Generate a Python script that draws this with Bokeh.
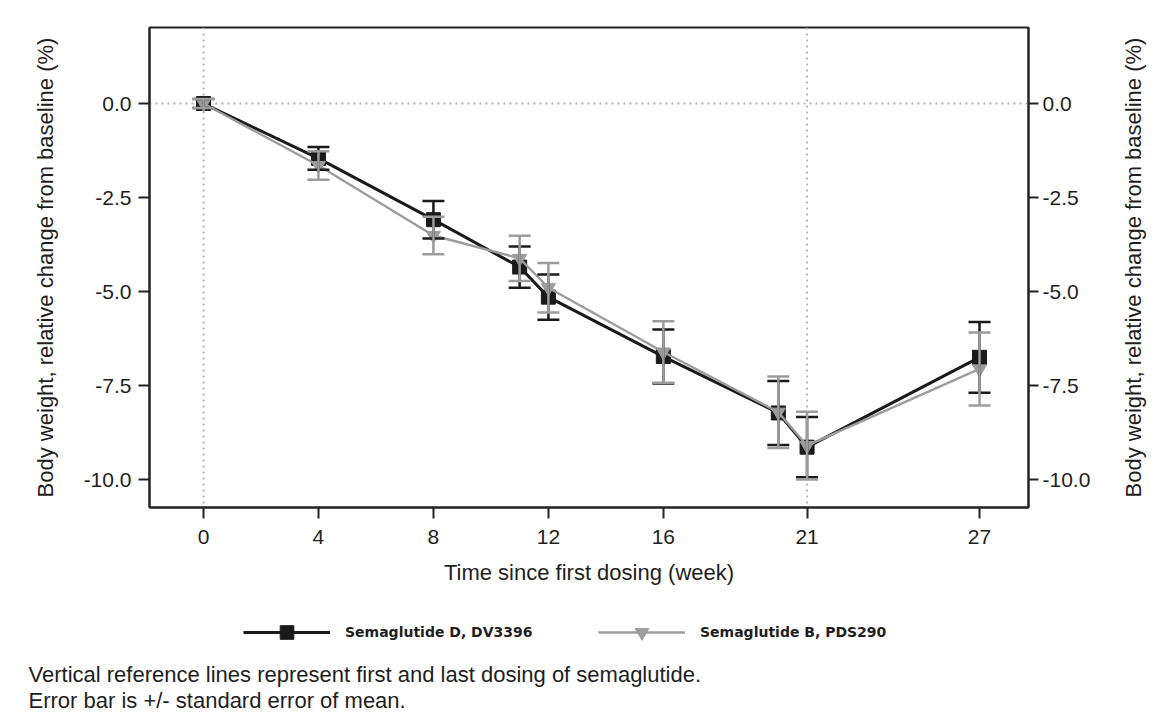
import math
from bokeh.plotting import figure
from bokeh.layouts import column, row
from bokeh.models import (ColumnDataSource, Whisker, TeeHead, Span, LinearAxis,
                          FixedTicker, Legend, LegendItem, Label, Range1d,
                          NumeralTickFormatter)
from bokeh.embed import file_html
from bokeh.resources import INLINE

# ---------------- data ----------------
weeks = [0, 4, 8, 11, 12, 16, 20, 21, 27]
dv3396_mean = [0.0, -1.46, -3.09, -4.35, -5.15, -6.73, -8.23, -9.14, -6.75]
dv3396_se = [0.12, 0.30, 0.50, 0.55, 0.60, 0.72, 0.85, 0.80, 0.94]
pds290_mean = [0.0, -1.65, -3.51, -4.12, -4.90, -6.61, -8.21, -9.10, -7.06]
pds290_se = [0.12, 0.38, 0.50, 0.60, 0.66, 0.82, 0.95, 0.90, 0.97]
series_names = ["Semaglutide D, DV3396", "Semaglutide B, PDS290"]
x_ticks = [0, 4, 8, 12, 16, 21, 27]
y_ticks = [0.0, -2.5, -5.0, -7.5, -10.0]
ref_weeks = [0, 21]
ref_value = 0.0
x_title = "Time since first dosing (week)"
y_title = "Body weight, relative change from baseline (%)"
notes = ["Vertical reference lines represent first and last dosing of semaglutide.",
         "Error bar is +/- standard error of mean."]

# ---------------- layout ----------------
W, H = 1154, 715
H1 = 600                      # height of the chart part
W1 = 1100                     # width of the chart part (right title in its own strip)
FL, FR, FT, FB = 149, 1028, 27, 507
X0PX, X27PX = 203, 979
Y0PX, Y10PX = 103, 479
xs = (X27PX - X0PX) / 27.0
ys = (Y10PX - Y0PX) / 10.0


def px2x(px):
    return (px - X0PX) / xs


def py2y(py):
    return -(py - Y0PX) / ys


x_range = Range1d(px2x(FL), px2x(FR))
y_range = Range1d(py2y(FB), py2y(FT))

FONT = "Liberation Sans"
TXT = "#1e1e1e"
BLACK = "#1a1a1a"
GRAY = "#9c9c9c"

p = figure(width=W1, height=H1, x_range=x_range, y_range=y_range,
           output_backend="svg", toolbar_location=None,
           min_border_left=FL, min_border_right=W1 - FR,
           min_border_top=FT, min_border_bottom=H1 - FB,
           background_fill_color="white", border_fill_color="white")
p.frame_align = False
p.xgrid.visible = False
p.ygrid.visible = False
p.outline_line_color = "#222222"
p.outline_line_width = 2
p.outline_line_alpha = 1.0


def style_axis(ax, standoff, title_standoff):
    ax.axis_line_color = "#222222"
    ax.axis_line_width = 2
    ax.major_tick_line_color = "#222222"
    ax.major_tick_line_width = 2
    ax.major_tick_in = 0
    ax.major_tick_out = 11
    ax.minor_tick_line_color = None
    ax.major_label_text_font = FONT
    ax.major_label_text_font_size = "21px"
    ax.major_label_text_color = TXT
    ax.major_label_standoff = standoff
    ax.axis_label_text_font = FONT
    ax.axis_label_text_font_size = "22px"
    ax.axis_label_text_font_style = "normal"
    ax.axis_label_text_color = TXT
    ax.axis_label_standoff = title_standoff


xa = p.xaxis[0]
xa.ticker = FixedTicker(ticks=x_ticks)
xa.axis_label = x_title
style_axis(xa, 11, 13)

ya = p.yaxis[0]
ya.ticker = FixedTicker(ticks=y_ticks)
ya.formatter = NumeralTickFormatter(format="0.0")
ya.axis_label = y_title
style_axis(ya, 7, 23)

yr = LinearAxis(ticker=FixedTicker(ticks=y_ticks),
                formatter=NumeralTickFormatter(format="0.0"))
style_axis(yr, 4, 0)
yr.major_tick_out = 10
p.add_layout(yr, "right")

# reference lines
for w in ref_weeks:
    p.add_layout(Span(location=w, dimension="height", line_color="#b5b5b5",
                      line_width=2, line_dash="2 4", level="underlay"))
p.add_layout(Span(location=ref_value, dimension="width", line_color="#b5b5b5",
                  line_width=2, line_dash="2 4", level="underlay"))


def add_series(mean, se, color, marker, msize, lw):
    src = ColumnDataSource(dict(
        x=weeks, y=mean,
        upper=[m + s for m, s in zip(mean, se)],
        lower=[m - s for m, s in zip(mean, se)]))
    p.line("x", "y", source=src, line_color=color, line_width=lw)
    wh = Whisker(base="x", upper="upper", lower="lower", source=src,
                 line_color=color, line_width=2.5, level="glyph",
                 upper_head=TeeHead(size=22, line_color=color, line_width=2.5),
                 lower_head=TeeHead(size=22, line_color=color, line_width=2.5))
    p.add_layout(wh)
    p.scatter("x", "y", source=src, marker=marker, size=msize,
              fill_color=color, line_color=color)


add_series(dv3396_mean, dv3396_se, BLACK, "square", 14, 3.0)
add_series(pds290_mean, pds290_se, GRAY, "inverted_triangle", 14, 2.4)

# ---------------- right-hand axis title strip ----------------
r = figure(width=W - W1, height=H1, x_range=Range1d(W1, W), y_range=Range1d(H1, 0),
           output_backend="svg", toolbar_location=None,
           x_axis_type=None, y_axis_type=None,
           min_border_left=0, min_border_right=0, min_border_top=0,
           min_border_bottom=0, background_fill_color="white",
           border_fill_color="white")
r.frame_align = False
r.xgrid.visible = False
r.ygrid.visible = False
r.outline_line_color = None
r.add_layout(Label(x=1133, y=(FT + FB) / 2, text=y_title, angle=math.pi / 2,
                   text_align="center", text_baseline="middle",
                   text_font=FONT, text_font_size="22px", text_color=TXT))

# ---------------- legend + footnotes strip ----------------
H2 = H - H1
q = figure(width=W, height=H2, x_range=Range1d(0, W), y_range=Range1d(H, H1),
           output_backend="svg", toolbar_location=None,
           x_axis_type=None, y_axis_type=None,
           min_border_left=0, min_border_right=0, min_border_top=0,
           min_border_bottom=0, background_fill_color="white",
           border_fill_color="white")
q.frame_align = False
q.xgrid.visible = False
q.ygrid.visible = False
q.outline_line_color = None

# legend-only renderers (their single point lies outside the visible range)
off = dict(x=[-5000], y=[-5000])
ql1 = q.line("x", "y", source=ColumnDataSource(off), line_color=BLACK, line_width=3.0)
qs1 = q.scatter("x", "y", source=ColumnDataSource(off), marker="square", size=14,
                fill_color=BLACK, line_color=BLACK)
ql2 = q.line("x", "y", source=ColumnDataSource(off), line_color=GRAY, line_width=2.4)
qs2 = q.scatter("x", "y", source=ColumnDataSource(off), marker="inverted_triangle",
                size=14, fill_color=GRAY, line_color=GRAY)

GH = 34


def make_legend(item_label, rends, left_px, center_px):
    leg = Legend(items=[LegendItem(label=item_label, renderers=rends)],
                 location=(left_px, H - (center_px + GH / 2)),
                 orientation="horizontal",
                 background_fill_alpha=0, border_line_color=None,
                 padding=0, margin=0, spacing=0,
                 glyph_width=87, glyph_height=GH, label_standoff=15,
                 label_text_font="DejaVu Sans", label_text_font_style="bold",
                 label_text_font_size="14px", label_text_color=TXT,
                 label_text_baseline="middle", label_height=GH)
    q.add_layout(leg)


make_legend(series_names[0], [ql1, qs1], 243, 632)
make_legend(series_names[1], [ql2, qs2], 598, 632)

for txt, py in zip(notes, [674, 700]):
    q.add_layout(Label(x=28, y=py, text=txt,
                       text_baseline="middle", text_align="left",
                       text_font=FONT, text_font_size="22px",
                       text_color=TXT))

layout = column(row(p, r, spacing=0), q, spacing=0)
open("out.html", "w").write(file_html(layout, INLINE))
